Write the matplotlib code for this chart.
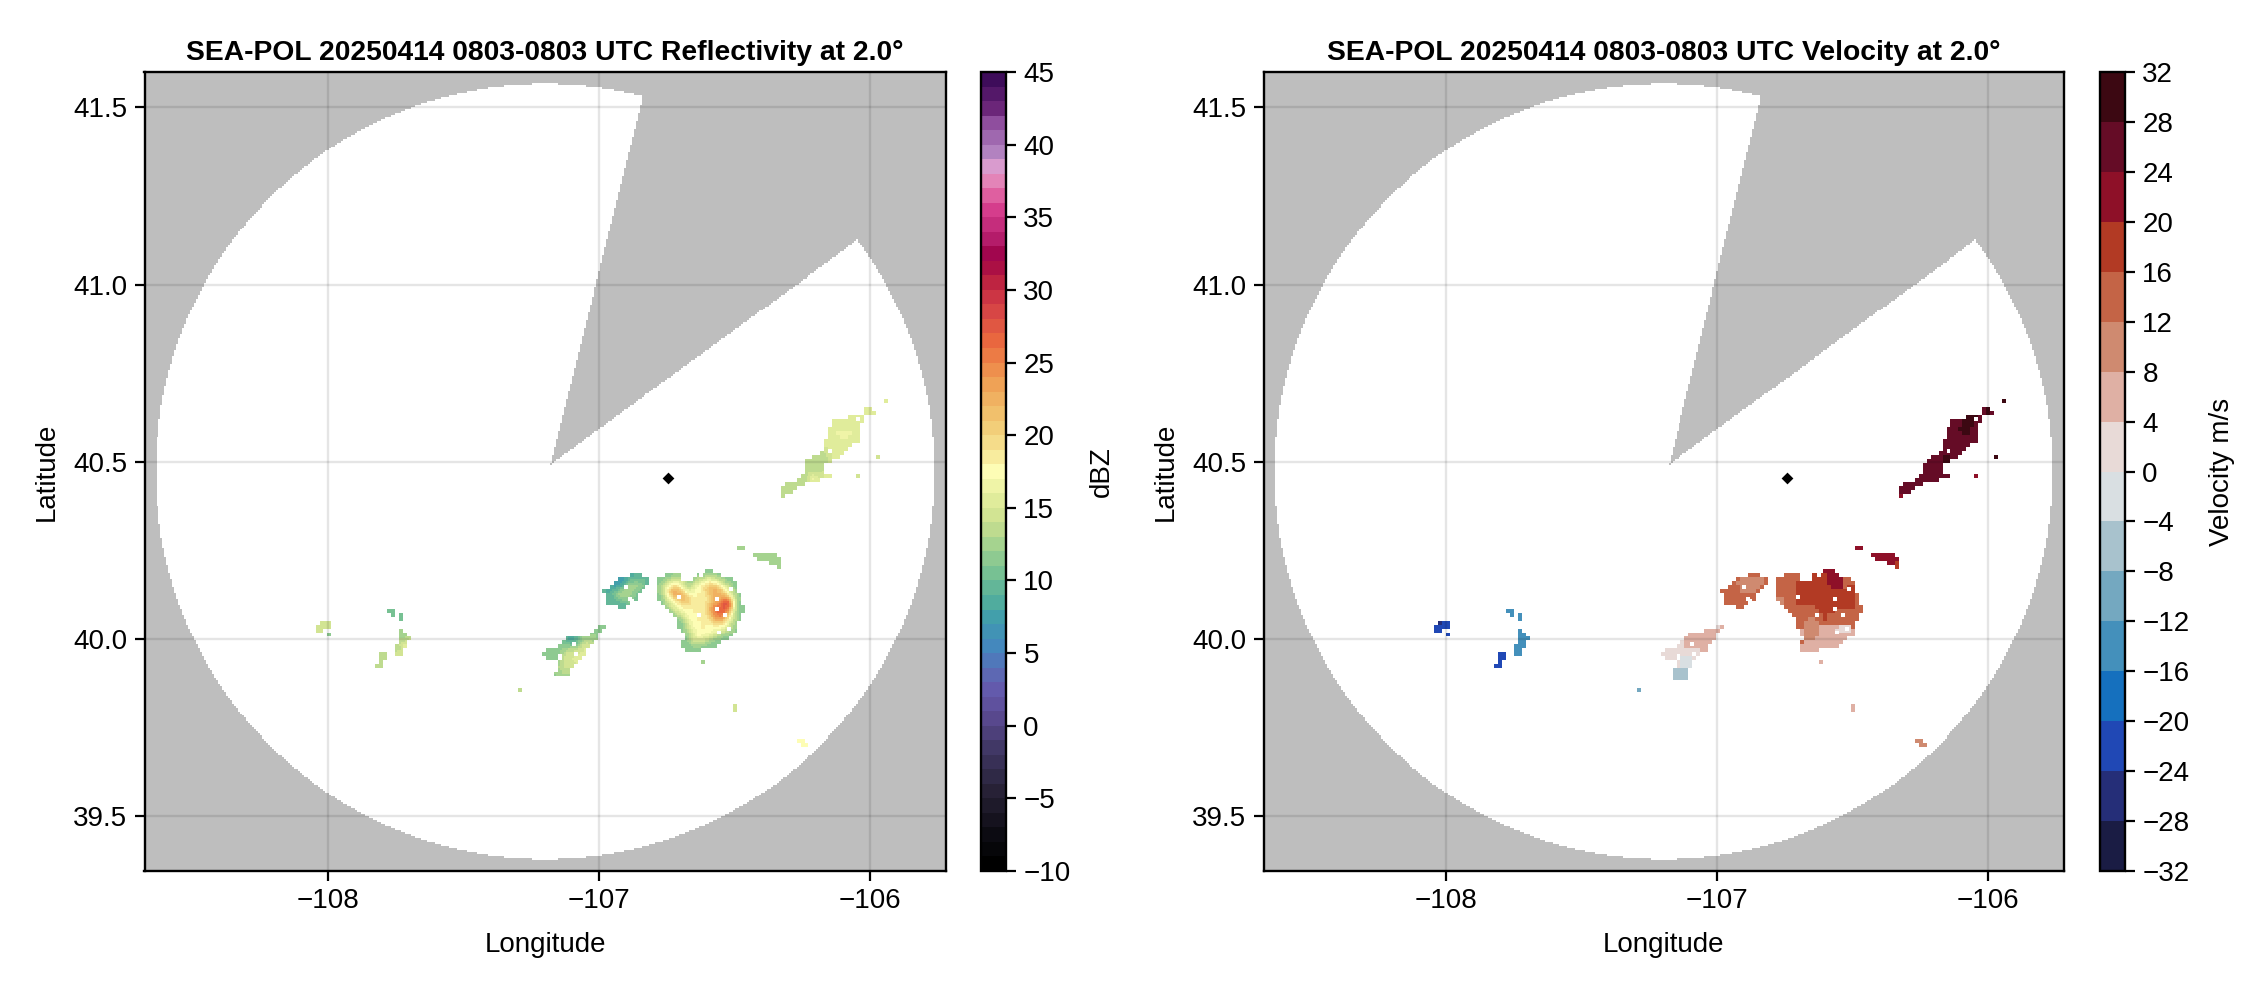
import numpy as np
import matplotlib
matplotlib.use("Agg")
import matplotlib.pyplot as plt
from matplotlib.path import Path
from matplotlib.colors import LinearSegmentedColormap, ListedColormap, BoundaryNorm

plt.rcParams['font.family'] = ['Liberation Sans', 'DejaVu Sans']

# --- radar geometry
COVER_LON, COVER_LAT = -107.198, 40.4725
COVER_R_LON, COVER_R_LAT = 1.435, 1.0935
APEX_LON, APEX_LAT = -107.178, 40.493
BLOCKED_AZ = (14.0, 53.7)
SITE_LON, SITE_LAT = -106.744, 40.454
XLIM = (-108.675, -105.72)
YLIM = (39.345, 41.60)
XTICKS = [-108, -107, -106]
YTICKS = [39.5, 40.0, 40.5, 41.0, 41.5]
TITLES = ["SEA-POL 20250414 0803-0803 UTC Reflectivity at 2.0°",
          "SEA-POL 20250414 0803-0803 UTC Velocity at 2.0°"]

# --- echo outlines (lon, lat)
HEART = [(-106.785,40.165),(-106.742,40.184),(-106.705,40.186),(-106.693,40.165),(-106.662,40.156),(-106.644,40.179),
         (-106.594,40.193),(-106.545,40.175),(-106.496,40.160),(-106.484,40.118),(-106.469,40.081),(-106.484,40.053),
         (-106.508,40.006),(-106.558,39.987),(-106.570,39.968),(-106.619,39.973),(-106.656,39.951),(-106.705,39.977),
         (-106.687,40.006),(-106.711,40.034),(-106.705,40.053),(-106.754,40.081),(-106.785,40.104)]
NE_BAND = [(-106.330,40.409),(-106.324,40.432),(-106.263,40.447),(-106.244,40.465),(-106.244,40.493),(-106.213,40.512),
           (-106.170,40.526),(-106.164,40.568),(-106.134,40.615),(-106.029,40.634),(-106.023,40.648),(-105.998,40.651),
           (-105.980,40.634),(-106.029,40.625),(-106.041,40.559),(-106.072,40.540),(-106.115,40.508),(-106.164,40.493),
           (-106.170,40.461),(-106.146,40.456),(-106.201,40.439),(-106.256,40.432),(-106.299,40.409)]
NE_A = [(-105.958,40.672),(-105.928,40.679),(-105.928,40.670),(-105.952,40.664)]
NE_B = [(-105.986,40.514),(-105.958,40.523),(-105.958,40.512),(-105.980,40.506)]
NE_C = [(-106.066,40.454),(-106.035,40.461),(-106.035,40.451),(-106.060,40.443)]
NE_D = [(-106.339,40.402),(-106.314,40.404),(-106.330,40.394)]
E_TINY = [(-106.496,40.261),(-106.469,40.256),(-106.474,40.250),(-106.494,40.254)]
E_BLOB = [(-106.429,40.240),(-106.361,40.238),(-106.330,40.226),(-106.330,40.198),(-106.349,40.198),(-106.386,40.212),(-106.429,40.226)]
MID = [(-106.988,40.132),(-106.939,40.160),(-106.926,40.173),(-106.871,40.179),(-106.834,40.175),(-106.810,40.160),
       (-106.853,40.128),(-106.859,40.104),(-106.889,40.101),(-106.908,40.085),(-106.945,40.090),(-106.973,40.095)]
SW = [(-107.215,39.963),(-107.154,39.973),(-107.123,40.006),(-107.043,40.006),(-107.000,40.041),(-106.969,40.038),
      (-107.000,40.010),(-107.043,39.968),(-107.092,39.931),(-107.111,39.893),(-107.162,39.898),(-107.150,39.931),
      (-107.141,39.949),(-107.184,39.935),(-107.215,39.949)]
SW_TINY = [(-107.022,40.073),(-107.016,40.057),(-107.028,40.052)]
W_A = [(-108.048,40.023),(-108.032,40.046),(-107.985,40.049),(-107.989,40.035),(-108.026,40.016)]
W_B = [(-108.001,40.016),(-107.977,40.018),(-107.993,40.003)]
W_C = [(-107.778,40.077),(-107.762,40.086),(-107.755,40.063),(-107.774,40.058)]
W_D = [(-107.741,40.074),(-107.732,40.069),(-107.732,40.053),(-107.741,40.056)]
W_E = [(-107.747,40.033),(-107.719,40.018),(-107.703,39.999),(-107.715,39.974),(-107.739,39.946),(-107.752,39.950),(-107.747,39.988)]
W_F = [(-107.811,39.958),(-107.786,39.955),(-107.792,39.936),(-107.798,39.911),(-107.823,39.917),(-107.823,39.930),(-107.807,39.936)]
W_G = [(-107.838,39.896),(-107.821,39.894),(-107.831,39.885)]
SPECK_H = [(-107.304,39.852),(-107.292,39.856),(-107.292,39.845),(-107.304,39.845)]
S_TINY = [(-106.625,39.935),(-106.608,39.930),(-106.618,39.922)]
S_A = [(-106.506,39.812),(-106.490,39.808),(-106.494,39.796),(-106.504,39.798)]
S_B = [(-106.280,39.708),(-106.248,39.714),(-106.226,39.700),(-106.250,39.688)]

# --- reflectivity layers (dBZ, polygon), painted in order
REFL_LAYERS = [
    (11, HEART),
    (14, [(-106.769,40.160),(-106.711,40.174),(-106.668,40.142),(-106.644,40.165),(-106.594,40.179),(-106.508,40.146),
          (-106.490,40.081),(-106.515,40.015),(-106.564,40.001),(-106.619,39.982),(-106.656,39.968),(-106.674,40.010),
          (-106.693,40.048),(-106.754,40.095),(-106.773,40.128)]),
    (17, [(-106.760,40.151),(-106.717,40.165),(-106.668,40.128),(-106.625,40.165),(-106.588,40.170),(-106.521,40.137),
          (-106.502,40.081),(-106.527,40.029),(-106.576,40.010),(-106.644,39.987),(-106.662,40.024),(-106.693,40.067),(-106.748,40.104)]),
    (18, [(-106.748,40.146),(-106.717,40.156),(-106.668,40.118),(-106.625,40.151),(-106.588,40.160),(-106.533,40.128),
          (-106.515,40.081),(-106.545,40.038),(-106.594,40.020),(-106.644,40.015),(-106.650,40.053),(-106.693,40.081),(-106.748,40.123)]),
    (23, [(-106.748,40.142),(-106.711,40.146),(-106.680,40.118),(-106.668,40.090),(-106.705,40.109),(-106.742,40.123)]),
    (22, [(-106.625,40.151),(-106.570,40.151),(-106.533,40.128),(-106.521,40.071),(-106.551,40.038),(-106.594,40.048),(-106.607,40.090),(-106.594,40.118)]),
    (24.5, [(-106.594,40.081),(-106.558,40.109),(-106.521,40.118),(-106.515,40.081),(-106.545,40.048),(-106.582,40.057)]),
    (26.5, [(-106.588,40.081),(-106.551,40.104),(-106.515,40.109),(-106.527,40.076),(-106.558,40.062)]),
    (29, [(-106.548,40.104),(-106.521,40.114),(-106.515,40.095),(-106.535,40.085)]),
    (15, NE_BAND),
    (13, [(-106.330,40.409),(-106.324,40.432),(-106.263,40.447),(-106.244,40.465),(-106.238,40.503),(-106.213,40.512),
          (-106.170,40.526),(-106.146,40.508),(-106.189,40.465),(-106.263,40.432),(-106.312,40.404)]),
    (16, [(-106.152,40.587),(-106.066,40.606),(-106.054,40.568),(-106.115,40.531)]),
    (17.5, [(-106.250,40.454),(-106.201,40.461),(-106.195,40.448),(-106.245,40.447)]),
    (15, NE_A), (14, NE_B), (14, NE_C), (13, NE_D), (12, E_TINY),
    (12, E_BLOB),
    (9, MID),
    (12.5, [(-106.957,40.132),(-106.926,40.146),(-106.871,40.165),(-106.828,40.160),(-106.871,40.128),(-106.877,40.109),(-106.926,40.099)]),
    (7, [(-106.945,40.156),(-106.902,40.170),(-106.877,40.176),(-106.926,40.142),(-106.975,40.128)]),
    (11.5, SW),
    (14.5, [(-107.135,39.963),(-107.080,39.977),(-107.031,40.006),(-107.000,40.029),(-107.049,39.968),(-107.098,39.931),(-107.123,39.903),(-107.154,39.903),(-107.135,39.940)]),
    (16.5, [(-107.111,39.931),(-107.074,39.949),(-107.037,39.987),(-107.025,39.996),(-107.055,39.954),(-107.098,39.921)]),
    (8.5, [(-107.123,40.006),(-107.074,40.006),(-107.080,39.982),(-107.123,39.982)]),
    (9, SW_TINY),
    (14, W_A), (11, W_B), (10.5, W_C), (10, W_D), (12, W_E),
    (15, [(-107.739,39.990),(-107.703,39.999),(-107.715,39.974),(-107.739,39.946),(-107.752,39.950)]),
    (13, W_F), (16, W_G), (13, SPECK_H), (12, S_TINY), (14, S_A), (17, S_B),
]

# --- velocity layers (m/s, polygon), painted in order
VEL_LAYERS = [
    (14, HEART),
    (18, [(-106.716,40.156),(-106.661,40.156),(-106.661,40.175),(-106.605,40.189),(-106.587,40.137),(-106.501,40.146),
          (-106.495,40.085),(-106.550,40.081),(-106.593,40.067),(-106.605,40.053),(-106.642,40.090),(-106.710,40.095),(-106.716,40.128)]),
    (22, [(-106.609,40.193),(-106.562,40.189),(-106.535,40.160),(-106.538,40.135),(-106.585,40.135),(-106.597,40.175)]),
    (6, [(-106.705,40.015),(-106.674,40.053),(-106.599,40.038),(-106.501,40.029),(-106.501,40.006),(-106.544,39.987),
         (-106.569,39.968),(-106.612,39.973),(-106.648,39.954),(-106.704,39.968),(-106.673,39.996)]),
    (10, [(-106.673,40.067),(-106.624,40.043),(-106.636,39.996),(-106.679,39.996),(-106.685,40.029)]),
    (2, [(-106.570,40.029),(-106.508,40.038),(-106.508,40.015),(-106.558,40.010)]),
    (10, [(-106.785,40.118),(-106.766,40.114),(-106.748,40.090),(-106.779,40.099)]),
    (14, MID),
    (10, [(-106.931,40.165),(-106.821,40.175),(-106.857,40.132),(-106.919,40.128)]),
    (2, SW),
    (6, [(-107.123,40.006),(-106.969,40.038),(-107.000,40.010),(-107.043,39.963),(-107.123,39.973)]),
    (10, [(-107.000,40.041),(-106.969,40.038),(-107.000,40.029)]),
    (-2, [(-107.141,39.949),(-107.092,39.949),(-107.092,39.917),(-107.141,39.914)]),
    (-6, [(-107.166,39.914),(-107.104,39.914),(-107.104,39.884),(-107.166,39.884)]),
    (6, SW_TINY),
    (26, NE_BAND),
    (30, [(-106.108,40.597),(-106.077,40.625),(-106.040,40.625),(-106.059,40.601),(-106.071,40.568),(-106.102,40.568)]),
    (30, [(-106.175,40.517),(-106.138,40.517),(-106.138,40.493),(-106.181,40.493)]),
    (30, [(-106.017,40.653),(-105.992,40.653),(-105.992,40.634),(-106.017,40.634)]),
    (30, NE_A), (30, NE_B), (22, NE_C), (22, NE_D), (22, E_TINY),
    (22, E_BLOB),
    (18, [(-106.352,40.215),(-106.330,40.226),(-106.330,40.198),(-106.349,40.198)]),
    (-22, W_A), (-26, [(-108.030,40.046),(-108.012,40.046),(-108.018,40.032),(-108.032,40.034)]),
    (-22, W_B), (-14, W_C), (-14, W_D), (-14, W_E), (-22, W_F), (-22, W_G),
    (-10, SPECK_H), (6, S_TINY), (6, S_A), (10, S_B),
]

# --- missing cells inside echoes (lon, lat)
HOLES = [(-106.705,40.118),(-106.570,40.081),(-106.540,40.063),(-106.570,40.109),(-106.632,40.067),(-106.525,40.029),
         (-106.558,40.018),(-106.902,40.146),(-106.890,40.108),(-106.882,40.103),(-107.095,39.982),(-107.089,39.954),
         (-107.147,39.951),(-106.625,40.176),(-106.515,40.137),(-106.100,40.630),(-106.050,40.615),(-106.150,40.530)]

# --- colours
REFL_BOUNDS = list(range(-10, 46))
REFL_ANCHORS = [(-10,'#000000'),(-8,'#0c0b12'),(-5,'#262035'),(-2,'#3f3763'),(0,'#57478a'),(2,'#6457ab'),(3.5,'#5b6bb5'),
                (5,'#4585bf'),(7,'#3f9bb0'),(8,'#4aa8a0'),(10,'#6fbd94'),(12,'#9bd08f'),(14,'#cce08f'),(16,'#e8f0a0'),
                (17.5,'#fdfdb5'),(19,'#f6e493'),(21,'#f1c872'),(24,'#ef9c52'),(26.5,'#ea6a3f'),(29,'#d54146'),
                (31,'#bb2040'),(32.5,'#9c0047'),(34,'#b8206f'),(36,'#d8408f'),(37.5,'#e577ad'),(38.7,'#e0a0d0'),
                (40,'#ae80bf'),(42,'#8e4d9d'),(43,'#6a2478'),(45,'#3e0c5a')]
VEL_BOUNDS = list(range(-32, 33, 4))
VEL_COLORS = ['#1a1c44','#252e78','#2048b5','#1570be','#4490bb','#74a8c0','#a8c2cd','#d9dfe2',
              '#e8dad7','#dfb0a4','#cf8a70','#c46446','#b23a24','#8e1028','#650c26','#3c0812']
GRAY = '#bebebe'
VEL_TICKS = VEL_BOUNDS
REFL_TICKS = list(range(-10, 46, 5))

refl_cmap = LinearSegmentedColormap.from_list(
    'refl', [((v + 10) / 55, c) for v, c in REFL_ANCHORS], N=55)
refl_norm = BoundaryNorm(REFL_BOUNDS, 55)
vel_cmap = ListedColormap(VEL_COLORS)
vel_norm = BoundaryNorm(VEL_BOUNDS, 16)

# --- analysis grid
KM_LAT, KM_LON = 111.2, 84.6
CELL_KM = 0.62
n = int(125 / CELL_KM)
lon_c = COVER_LON + np.arange(-n, n + 1) * CELL_KM / KM_LON
lat_c = COVER_LAT + np.arange(-n, n + 1) * CELL_KM / KM_LAT
LON, LAT = np.meshgrid(lon_c, lat_c)
in_disc = ((LON - COVER_LON) / COVER_R_LON) ** 2 + ((LAT - COVER_LAT) / COVER_R_LAT) ** 2 <= 1
az = np.degrees(np.arctan2((LON - APEX_LON) * KM_LON, (LAT - APEX_LAT) * KM_LAT)) % 360
coverage = in_disc & ~((az > BLOCKED_AZ[0]) & (az < BLOCKED_AZ[1]))

# echo edges follow a coarser block lattice, like the stair-stepped edges of the radar gates
block_i = (np.arange(lat_c.size) // 2) * 2
block_j = (np.arange(lon_c.size) // 2) * 2
BLOCK_LON, BLOCK_LAT = np.meshgrid(lon_c[block_j], lat_c[block_i])
points = np.column_stack([BLOCK_LON.ravel(), BLOCK_LAT.ravel()])


def rasterise(layers, blur):
    field = np.full(LON.shape, np.nan)
    for value, poly in layers:
        inside = Path(poly + [poly[0]]).contains_points(points).reshape(LON.shape)
        field[inside] = value
    if blur:
        valid = np.isfinite(field)
        filled = np.where(valid, field, 0.0)
        total = np.zeros_like(field)
        count = np.zeros_like(field)
        for i in range(-blur, blur + 1):
            for j in range(-blur, blur + 1):
                total += np.roll(np.roll(filled, i, 0), j, 1)
                count += np.roll(np.roll(valid.astype(float), i, 0), j, 1)
        field = np.where(valid, total / np.maximum(count, 1), np.nan)
    for hx, hy in HOLES:
        i = np.abs(lat_c - hy).argmin()
        j = np.abs(lon_c - hx).argmin()
        field[i:i + 2, j:j + 2] = np.nan
    return np.where(coverage, field, np.nan)


W, H = 2262, 990
FS = 20
TITLE_FS = 20.3
fig = plt.figure(figsize=(W / 100, H / 100), dpi=100, facecolor='white')


def pix_axes(x0, x1, y0, y1):
    return fig.add_axes([x0 / W, 1 - y1 / H, (x1 - x0) / W, (y1 - y0) / H])


def panel(x0, x1, cx0, cx1, field, cmap, norm, ticks, title, cblabel, label_x, ylabel_x):
    ax = pix_axes(x0, x1, 72, 871)
    ax.set_facecolor(GRAY)
    ax.pcolormesh(LON, LAT, np.where(coverage, 1.0, np.nan), cmap=ListedColormap(['white']),
                  shading='nearest', antialiased=False, zorder=1, vmin=0, vmax=2)
    ax.pcolormesh(LON, LAT, field, cmap=cmap, norm=norm, shading='nearest', antialiased=False, zorder=2)
    ax.grid(True, color='black', alpha=0.1, lw=1.7, zorder=3)
    ax.set_axisbelow(False)
    ax.scatter([SITE_LON], [SITE_LAT], marker='D', s=36, color='black', linewidths=0, zorder=5)
    ax.set_xlim(XLIM)
    ax.set_ylim(YLIM)
    ax.set_xticks(XTICKS)
    ax.set_yticks(YTICKS)
    ax.set_xticklabels(['\u2212%d' % abs(v) for v in XTICKS])
    ax.set_yticklabels(['%.1f' % v for v in YTICKS])
    ax.tick_params(length=7.5, width=1.6, labelsize=FS, pad=5)
    for s in ax.spines.values():
        s.set_linewidth(1.7)
        s.set_zorder(6)
    ax.set_title(title, fontsize=TITLE_FS, fontweight='bold', pad=9)
    ax.set_xlabel('Longitude', fontsize=FS)
    ax.xaxis.set_label_coords(0.5, (871 - 932) / 799)
    ax.set_ylabel('Latitude', fontsize=FS)
    ax.yaxis.set_label_coords((ylabel_x - x0) / (x1 - x0), 0.5)

    cax = pix_axes(cx0, cx1, 72, 871)
    sm = plt.cm.ScalarMappable(norm=norm, cmap=cmap)
    cb = fig.colorbar(sm, cax=cax, spacing='proportional', drawedges=False)
    cb.set_ticks(ticks)
    cb.set_ticklabels([('\u2212%d' % abs(v)) if v < 0 else str(v) for v in ticks])
    cb.ax.tick_params(length=7.5, width=1.6, labelsize=FS, pad=5)
    cb.ax.minorticks_off()
    cb.outline.set_linewidth(1.7)
    cb.set_label(cblabel, fontsize=FS)
    cb.ax.yaxis.set_label_coords((label_x - cx0) / (cx1 - cx0), 0.5)
    return ax


panel(144.5, 946, 981, 1006, rasterise(REFL_LAYERS, 2), refl_cmap, refl_norm, REFL_TICKS,
      TITLES[0], 'dBZ', 1089, 60)
panel(1263.5, 2064, 2100, 2125, rasterise(VEL_LAYERS, 0), vel_cmap, vel_norm, VEL_TICKS,
      TITLES[1], 'Velocity m/s', 2209, 1179)

fig.savefig('out.png', dpi=100, facecolor='white')
